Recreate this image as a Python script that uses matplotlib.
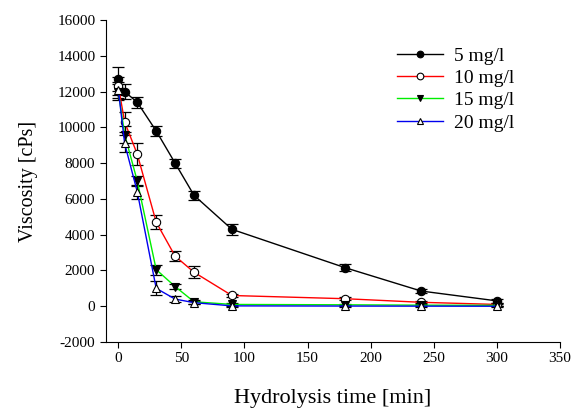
import matplotlib
matplotlib.use("Agg")
import matplotlib.pyplot as plt

plt.rcParams['font.family'] = ['Liberation Serif', 'DejaVu Serif']
plt.rcParams['axes.unicode_minus'] = False

# tempos de hidrólise (min)
tempo = [0, 5, 15, 30, 45, 60, 90, 180, 240, 300]

# viscosidade média (cPs) por concentração
visc_5 = [12700, 12000, 11400, 9800, 8000, 6200, 4300, 2150, 850, 300]
visc_10 = [12300, 10300, 8500, 4700, 2800, 1900, 600, 420, 220, 100]
visc_15 = [12000, 9600, 7000, 2050, 1100, 250, 100, 80, 60, 50]
visc_20 = [12100, 9100, 6400, 1000, 400, 200, 20, 10, 5, 0]

# desvios
err_5 = [650, 400, 300, 300, 250, 250, 300, 200, 100, 100]
err_10 = [500, 550, 600, 380, 280, 330, 100, 80, 60, 60]
err_15 = [450, 450, 300, 280, 150, 100, 60, 50, 50, 50]
err_20 = [450, 460, 380, 400, 150, 80, 50, 40, 40, 40]

fig = plt.figure(figsize=(5.79, 4.09), dpi=100)
ax = fig.add_axes([0.1826, 0.1638, 0.7844, 0.7872])

series = [
    (visc_5, err_5, '5 mg/l', 'black', 'o', 'black'),
    (visc_10, err_10, '10 mg/l', '#ff0000', 'o', 'white'),
    (visc_15, err_15, '15 mg/l', '#00ee00', 'v', 'black'),
    (visc_20, err_20, '20 mg/l', '#0000ee', '^', 'white'),
]

for y, e, lbl, cor, mk, face in series:
    ax.errorbar(tempo, y, yerr=e, fmt='none', ecolor='black', elinewidth=0.9,
                capsize=4, capthick=0.9, zorder=2)
    ax.plot(tempo, y, color=cor, lw=1.0, marker=mk, markersize=6,
            markerfacecolor=face, markeredgecolor='black', markeredgewidth=0.8,
            label=lbl, zorder=3)

ax.set_xlim(-10, 350)
ax.set_ylim(-2000, 16000)
ax.set_xticks(range(0, 351, 50))
ax.set_yticks(range(-2000, 16001, 2000))
ax.spines['top'].set_visible(False)
ax.spines['right'].set_visible(False)
ax.tick_params(direction='out', length=4, width=0.8, labelsize=11)

ax.set_xlabel('Hydrolysis time [min]', fontsize=16, labelpad=17)
ax.set_ylabel('Viscosity [cPs]', fontsize=14.5, labelpad=14)

ax.legend(loc='upper left', bbox_to_anchor=(0.624, 0.94), borderaxespad=0,
          frameon=False, fontsize=14, handlelength=2.35, labelspacing=0.24,
          handletextpad=0.6, markerscale=0.8)

fig.savefig('out.png', dpi=100)
